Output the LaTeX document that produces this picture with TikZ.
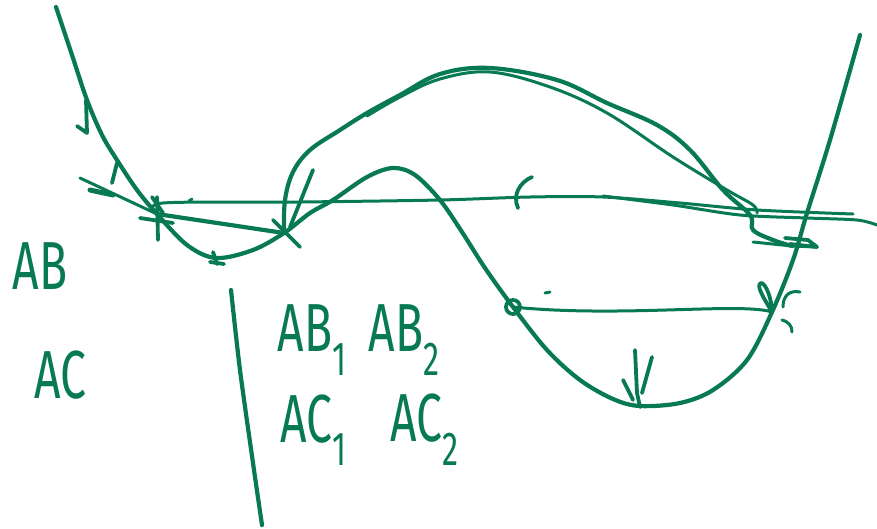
\documentclass[tikz,border=0pt]{standalone}
\usepackage{fontspec}
\setmainfont{Fira Sans}
\usetikzlibrary{calc}
\definecolor{ink}{RGB}{8,122,82}
\tikzset{
  pen/.style={draw=ink, line width=4.2pt, line cap=round, line join=round},
  thinpen/.style={pen, line width=3pt},
  scribble/.style={pen, line width=3.8pt},
  hand/.style={text=ink, font=\fontsize{68}{68}\selectfont, inner sep=0pt, xscale=0.68},
}

\begin{document}
\begin{tikzpicture}[x=1pt, y=-1pt]
  \useasboundingbox (0,0) rectangle (877,528);

  % points where the chords meet the curve
  \coordinate (b1) at (157,214);
  \coordinate (b2) at (284,233);
  \coordinate (c1) at (513,307);
  \coordinate (c2) at (772,312);
  \coordinate (m1) at (216,258);
  \coordinate (m2) at (640,406);
  \coordinate (r1) at (792,246);

  % the curve
  \draw[pen] plot[smooth, tension=0.55] coordinates {
    (56,7) (72,55) (87,100) (102,135) (117,160) (137,190) (b1) (187,245)
    (m1) (253,250) (b2) (310,213) (333,200) (367,177) (393,168) (415,175)
    (440,200) (462,232) (485,268) (c1) (547,350) (580,380) (613,399) (m2)
    (680,403) (713,390) (747,360) (c2) (793,260) (807,213) (830,140) (860,35)};

  % the two near-horizontal lines
  \draw[thinpen] plot[smooth] coordinates {
    (b1) (163,203) (300,202) (440,200) (530,197) (603,197) (680,203) (757,210) (853,214)};
  \draw[thinpen] plot[smooth] coordinates {
    (603,196) (673,205) (740,215) (807,218) (857,220) (877,225)};
  \draw[thinpen] (80,178) -- (b1);
  \draw[scribble, line width=5pt] (90,190) -- (113,195);

  % chords
  \draw[pen] (b1) -- (b2);
  \draw[thinpen] (c1) .. controls (620,318) and (740,302) .. (c2);
  \draw[thinpen] (753,242) -- (r1) -- (817,247);

  % the long arc and its second stroke
  \draw[pen] plot[smooth, tension=0.6] coordinates {
    (b2) (285,200) (293,172) (310,150) (340,130) (367,113) (400,95) (440,74)
    (490,68) (557,80) (607,103) (657,125) (690,150) (723,190) (750,215)
    (753,230) (773,240) (r1)};
  \draw[thinpen] plot[smooth, tension=0.6] coordinates {
    (367,116) (400,97) (440,79) (490,72) (550,87) (607,113) (673,157)
    (727,190) (753,205) (757,213)};

  % scribbled marks
  \draw[scribble] (86,100) -- (87,133) -- (77,126);
  \draw[scribble] (117,163) -- (112,183);
  \draw[scribble] (157,197) -- (158,240);
  \draw[scribble] (140,218) -- (173,223);
  \draw[scribble] (152,197) -- (163,213);
  \draw[scribble] (273,220) -- (300,247);
  \draw[scribble] (313,170) -- (290,227);
  \draw[scribble] (m1) ++(-3,-6) -- ++(4,12);
  \draw[scribble] (m1) ++(-6,4) -- ++(14,2);
  \draw[scribble] (532,177) .. controls (520,182) and (512,195) .. (518,208);
  \draw[thinpen] (189,201) -- (192,199);
  \draw[scribble] (c1) circle[radius=7];
  \draw[thinpen] (545,293) -- (550,292);
  \draw[scribble] (635,350) -- (637,393) -- (640,407);
  \draw[scribble] (623,380) -- (633,400);
  \draw[scribble] (652,357) -- (642,393);
  \draw[scribble] (c2) .. controls (765,300) and (755,285) .. (761,283) .. controls (766,283) and (772,300) .. (c2);
  \draw[thinpen] (783,307) .. controls (783,295) and (790,290) .. (800,292);
  \draw[thinpen] (782,320) .. controls (789,322) and (792,326) .. (792,332);
  \draw[scribble] (785,238) -- (808,240) -- (817,247) -- (790,244);

  % divider
  \draw[pen] plot[smooth] coordinates {(231,290) (240,370) (253,463) (262,525)};

  % labels
  \node[hand] (ab)  at (40,266)  {AB};
  \node[hand] (ac)  at (60,375)  {AC};
  \node[hand] (ab1) at (312,340) {AB\textsubscript{1}};
  \node[hand] (ab2) at (404,340) {AB\textsubscript{2}};
  \node[hand] (ac1) at (314,430) {AC\textsubscript{1}};
  \node[hand] (ac2) at (425,430) {AC\textsubscript{2}};
\end{tikzpicture}
\end{document}
